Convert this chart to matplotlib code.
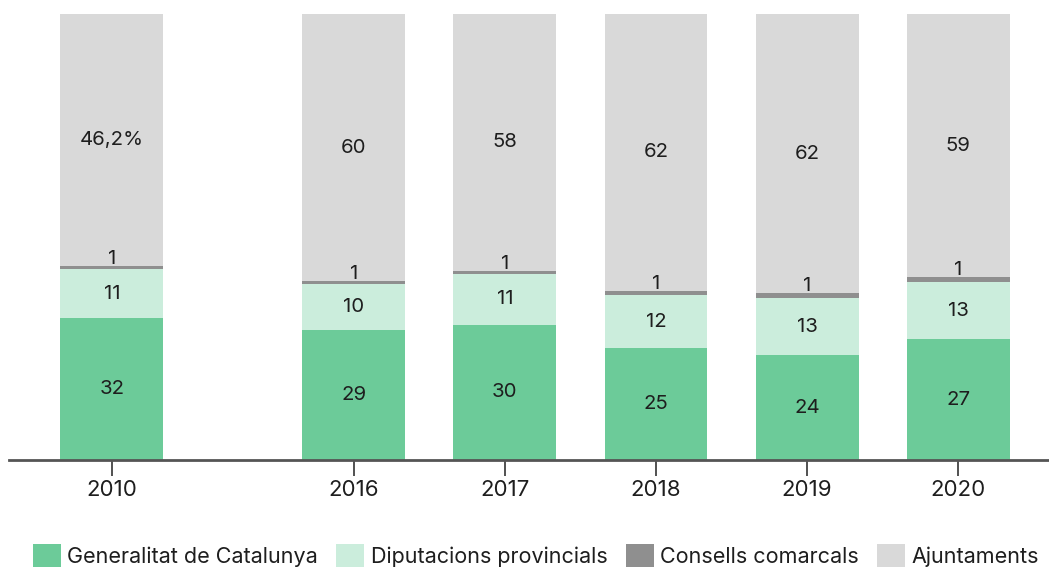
import numpy as np
import matplotlib.pyplot as plt

plt.rcParams['font.family'] = ['Inter', 'DejaVu Sans']

years = ["2010", "2016", "2017", "2018", "2019", "2020"]
xpos = [0, 1.6, 2.6, 3.6, 4.6, 5.6]

series = ["Generalitat de Catalunya", "Diputacions provincials",
          "Consells comarcals", "Ajuntaments"]
generalitat = [31.8, 29.1, 30.3, 25.1, 23.5, 27.1]
diputacions = [11.0, 10.3, 11.5, 11.9, 12.8, 12.8]
consells = [0.7, 0.7, 0.6, 0.9, 1.1, 1.1]
ajuntaments = [56.5, 59.9, 57.6, 62.1, 62.5, 59.0]

lab_generalitat = ["32", "29", "30", "25", "24", "27"]
lab_diputacions = ["11", "10", "11", "12", "13", "13"]
lab_consells = ["1", "1", "1", "1", "1", "1"]
lab_ajuntaments = ["46,2%", "60", "58", "62", "62", "59"]

colors = ["#6ccb99", "#cbeddc", "#8f8f8f", "#d9d9d9"]
TXT = "#1e1e1e"

fig = plt.figure(figsize=(10.49, 5.68), dpi=100)
ax = fig.add_axes([9 / 1049, 108 / 568, 1 - 9 / 1049, 446 / 568])

x = np.array(xpos)
w = 0.68
bottom = np.zeros(len(x))
stack = [generalitat, diputacions, consells, ajuntaments]
labels = [lab_generalitat, lab_diputacions, lab_consells, lab_ajuntaments]
for i, (vals, labs) in enumerate(zip(stack, labels)):
    vals = np.array(vals)
    ax.bar(x, vals, w, bottom=bottom, color=colors[i], label=series[i],
           linewidth=0, zorder=2)
    for xi, b, v, t in zip(x, bottom, vals, labs):
        if i == 2:
            # tiny segment: label sits just above it
            ax.text(xi, b + v - 0.4, t, ha='center', va='bottom',
                    fontsize=14.7, color=TXT, zorder=3)
        else:
            ax.text(xi, b + v / 2, t, ha='center', va='center',
                    fontsize=14.7, color=TXT, zorder=3)
    bottom += vals

ax.set_xlim(-0.68, 6.2)
ax.set_ylim(0, 100)
ax.set_xticks(x)
ax.set_xticklabels(years, fontsize=16, color=TXT)
ax.tick_params(axis='x', length=11.5, width=1.2, color="#333333", pad=3)
ax.set_yticks([])
for s in ["top", "right", "left"]:
    ax.spines[s].set_visible(False)
ax.spines["bottom"].set_color("#555555")
ax.spines["bottom"].set_linewidth(2)
ax.spines["bottom"].set_zorder(4)

leg = fig.legend(loc='upper left', bbox_to_anchor=(33 / 1049, 1 - 544 / 568),
                 ncol=4, frameon=False, fontsize=15.5, handlelength=1.3,
                 handleheight=1.3, handletextpad=0.3, columnspacing=0.85,
                 borderaxespad=0, borderpad=0)
for t in leg.get_texts():
    t.set_color(TXT)

fig.savefig("out.png", dpi=100)
